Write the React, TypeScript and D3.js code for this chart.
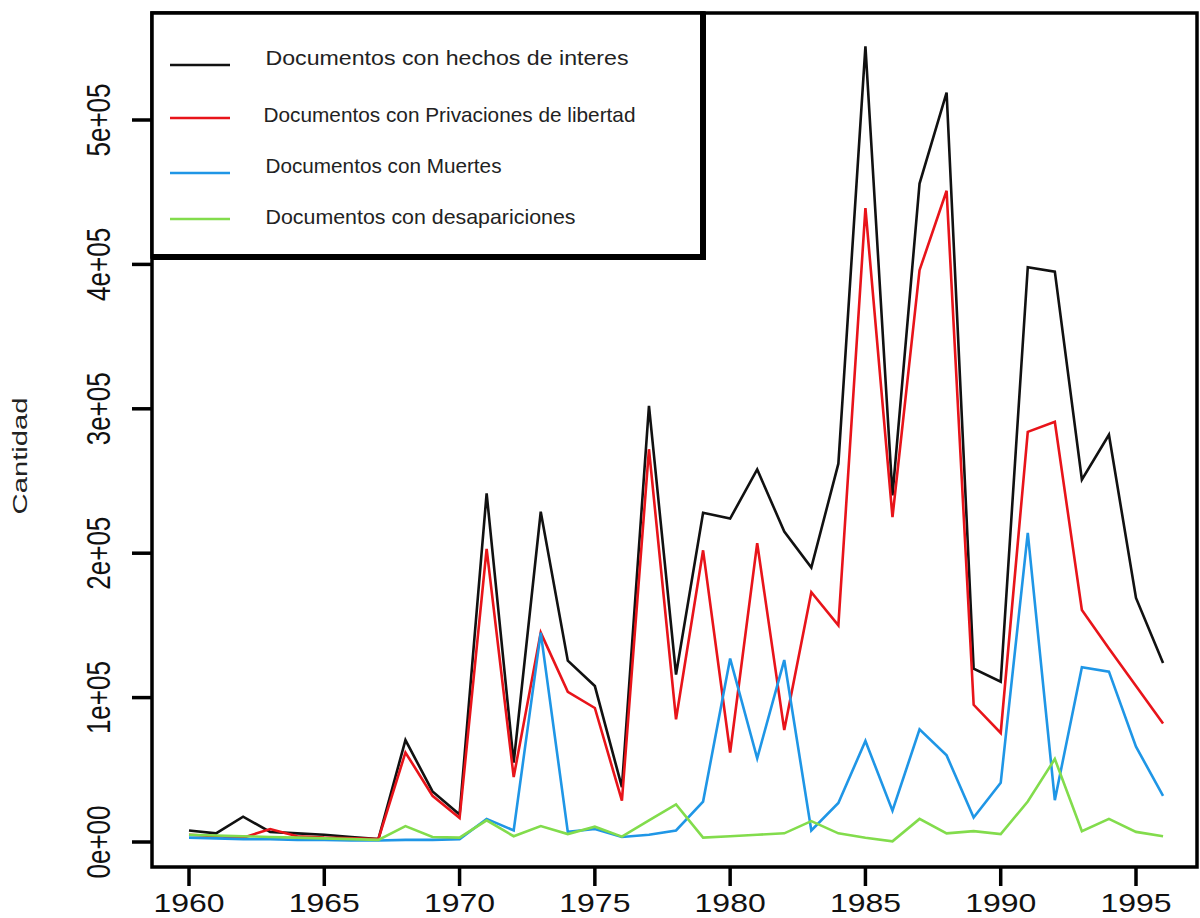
import React, { useEffect, useRef } from "react";
import * as d3 from "d3";

const WIDTH = 1200;
const HEIGHT = 918;

const YEARS = [
  1960, 1961, 1962, 1963, 1964, 1965, 1966, 1967, 1968, 1969,
  1970, 1971, 1972, 1973, 1974, 1975, 1976, 1977, 1978, 1979,
  1980, 1981, 1982, 1983, 1984, 1985, 1986, 1987, 1988, 1989,
  1990, 1991, 1992, 1993, 1994, 1995, 1996,
];

const HECHOS = [
  8000, 6000, 17500, 7000, 6000, 5000, 3500, 2000, 70600, 35000,
  19000, 241500, 55000, 228700, 125600, 108000, 38000, 302000, 116000, 228000,
  224000, 258000, 215000, 190000, 262000, 551000, 240000, 456000, 519000, 120000,
  111000, 398000, 395000, 251000, 282000, 169000, 124000,
];

const PRIVACIONES = [
  5000, 4000, 3000, 9000, 4000, 3000, 2500, 2000, 62000, 32000,
  16600, 203000, 45000, 145000, 104000, 92800, 28600, 272000, 85000, 202000,
  62000, 207000, 77500, 173000, 150000, 439000, 225000, 396000, 451000, 95000,
  75500, 284000, 291000, 160600, 134000, 108000, 82000,
];

const MUERTES = [
  3000, 2500, 2000, 2000, 1500, 1500, 1000, 1000, 1500, 1500,
  2000, 16000, 8000, 145000, 7000, 9000, 3500, 5000, 8000, 28000,
  127000, 58000, 126000, 8000, 27000, 70000, 21700, 78000, 60000, 17000,
  41000, 214000, 29000, 121000, 118000, 66000, 32000,
];

const DESAPARICIONES = [
  5000, 4500, 4000, 3500, 3000, 2500, 2000, 1500, 11000, 3500,
  3000, 15000, 4000, 11000, 5500, 10600, 3700, 15000, 26000, 3000,
  4000, 5000, 6000, 14500, 6000, 3000, 500, 16000, 6000, 7500,
  5500, 28000, 57500, 7500, 16000, 7000, 4000,
];

const X_TICKS = [1960, 1965, 1970, 1975, 1980, 1985, 1990, 1995];
const Y_TICKS = [0, 100000, 200000, 300000, 400000, 500000];
const Y_TICK_LABELS = ["0e+00", "1e+05", "2e+05", "3e+05", "4e+05", "5e+05"];

const SERIES = [
  { label: "Documentos con hechos de interes", values: HECHOS, color: "#111111", textX: 265.5, textW: 363 },
  { label: "Documentos con Privaciones de libertad", values: PRIVACIONES, color: "#e8141a", textX: 263.5, textW: 372 },
  { label: "Documentos con Muertes", values: MUERTES, color: "#1f96e6", textX: 265.5, textW: 236 },
  { label: "Documentos con desapariciones", values: DESAPARICIONES, color: "#82dc4c", textX: 265.5, textW: 310 },
];

const FONT = "'Liberation Sans', Arial, sans-serif";

const App: React.FC = () => {
  const ref = useRef<SVGSVGElement>(null);

  useEffect(() => {
    if (!ref.current) return;
    document.body.style.margin = "0";

    const svg = d3.select(ref.current);
    svg.selectAll("*").remove();

    const box = { left: 152, right: 1197, top: 13, bottom: 867 };

    const x = d3.scaleLinear().domain([1960, 1995]).range([189, 1136]);
    const y = d3.scaleLinear().domain([0, 500000]).range([842, 120]);

    svg.append("rect").attr("width", WIDTH).attr("height", HEIGHT).attr("fill", "#fff");

    // series lines
    const line = d3
      .line<number>()
      .x((_d: number, i: number) => x(YEARS[i]))
      .y((d: number) => y(d));

    SERIES.forEach((s) => {
      svg
        .append("path")
        .datum(s.values)
        .attr("d", line)
        .attr("fill", "none")
        .attr("stroke", s.color)
        .attr("stroke-width", 2.6)
        .attr("stroke-linejoin", "miter");
    });

    // plot frame
    svg
      .append("rect")
      .attr("x", box.left)
      .attr("y", box.top)
      .attr("width", box.right - box.left)
      .attr("height", box.bottom - box.top)
      .attr("fill", "none")
      .attr("stroke", "#000")
      .attr("stroke-width", 3.5);

    // x axis ticks + labels
    const xg = svg.append("g");
    X_TICKS.forEach((t) => {
      xg.append("line")
        .attr("x1", x(t)).attr("x2", x(t))
        .attr("y1", box.bottom).attr("y2", box.bottom + 19)
        .attr("stroke", "#000").attr("stroke-width", 3.5);
      xg.append("text")
        .attr("transform", `translate(${x(t)},912) scale(1.23,1)`)
        .attr("text-anchor", "middle")
        .style("font-family", FONT)
        .style("font-size", "26px")
        .style("fill", "#111")
        .text(String(t));
    });

    // y axis ticks + labels
    const yg = svg.append("g");
    Y_TICKS.forEach((t, i) => {
      yg.append("line")
        .attr("x1", box.left - 20).attr("x2", box.left)
        .attr("y1", y(t)).attr("y2", y(t))
        .attr("stroke", "#000").attr("stroke-width", 3.5);
      yg.append("text")
        .attr("transform", `translate(110,${y(t)}) scale(1.28,1) rotate(-90)`)
        .attr("text-anchor", "middle")
        .style("font-family", FONT)
        .style("font-size", "26px")
        .style("fill", "#111")
        .text(Y_TICK_LABELS[i]);
    });

    // y title
    svg
      .append("text")
      .attr("transform", "translate(27,456) rotate(-90)")
      .attr("text-anchor", "middle")
      .attr("textLength", 117)
      .attr("lengthAdjust", "spacingAndGlyphs")
      .style("font-family", FONT)
      .style("font-size", "21px")
      .style("fill", "#222")
      .text("Cantidad");

    // legend
    const lg = svg.append("g");
    lg.append("rect")
      .attr("x", box.left)
      .attr("y", box.top)
      .attr("width", 703 - box.left)
      .attr("height", 257 - box.top)
      .attr("fill", "#fff")
      .attr("stroke", "#000")
      .attr("stroke-width", 3.5);
    lg.append("line")
      .attr("x1", 703).attr("x2", 703)
      .attr("y1", box.top - 1.5).attr("y2", 260)
      .attr("stroke", "#000").attr("stroke-width", 6);
    lg.append("line")
      .attr("x1", box.left).attr("x2", 706)
      .attr("y1", 257).attr("y2", 257)
      .attr("stroke", "#000").attr("stroke-width", 6);

    const lineYs = [65, 118, 173, 219];
    const textYs = [65, 122, 173, 224];
    SERIES.forEach((s, i) => {
      lg.append("line")
        .attr("x1", 170).attr("x2", 230)
        .attr("y1", lineYs[i]).attr("y2", lineYs[i])
        .attr("stroke", s.color).attr("stroke-width", 2.6);
      lg.append("text")
        .attr("x", s.textX)
        .attr("y", textYs[i])
        .attr("textLength", s.textW)
        .attr("lengthAdjust", "spacingAndGlyphs")
        .style("font-family", FONT)
        .style("font-size", "21px")
        .style("fill", "#222")
        .text(s.label);
    });
  }, []);

  return (
    <svg
      ref={ref}
      width={WIDTH}
      height={HEIGHT}
      style={{ position: "absolute", left: 0, top: 0, display: "block" }}
    />
  );
};

export default App;
